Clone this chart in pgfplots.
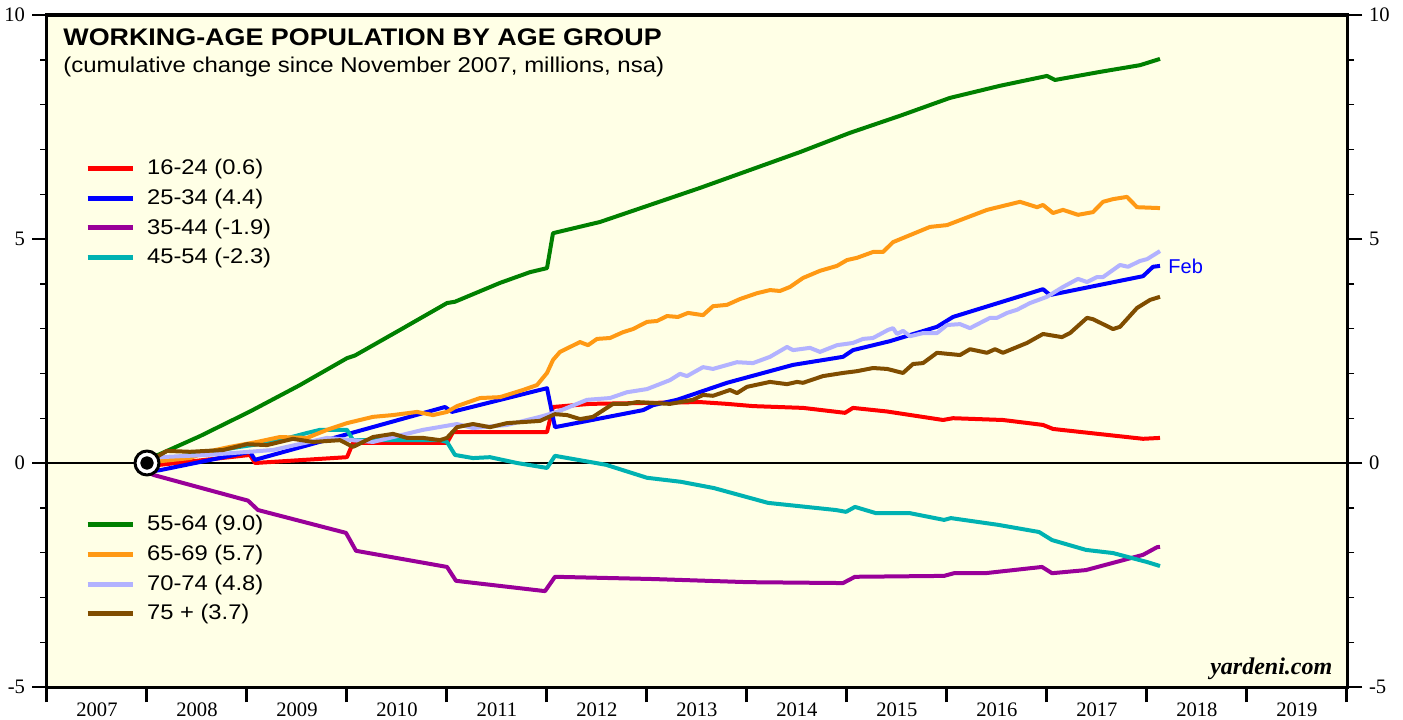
\documentclass[border=0pt]{standalone}
\usepackage{fontspec}
\setmainfont{Liberation Sans}[FakeStretch=1.12]
\newfontfamily\plainsans{Liberation Sans}
\newfontfamily\tickfont{Liberation Serif}
\usepackage{pgfplots}
\pgfplotsset{compat=1.18}

\definecolor{bgyellow}{RGB}{255,255,230}
\definecolor{cA}{RGB}{255,0,0}
\definecolor{cB}{RGB}{0,0,255}
\definecolor{cC}{RGB}{153,0,153}
\definecolor{cD}{RGB}{0,178,178}
\definecolor{cE}{RGB}{0,128,0}
\definecolor{cF}{RGB}{255,153,20}
\definecolor{cG}{RGB}{178,178,255}
\definecolor{cH}{RGB}{128,77,0}

\pgfplotsset{
  base/.style={
    scale only axis, width=650pt, height=336pt,
    xmin=2007, xmax=2020, ymin=-5, ymax=10,
    xtick={2007,...,2020},
    xticklabels={2007,2008,2009,2010,2011,2012,2013,2014,2015,2016,2017,2018,2019,{}},
    x tick label style={xshift=25pt, yshift=3pt},
    ytick={-5,0,5,10},
    minor ytick={-4,-3,-2,-1,1,2,3,4,6,7,8,9},
    tick align=outside, xtick pos=bottom,
    major tick length=7.5pt, minor tick length=3.5pt,
    axis line style={line width=1.5pt},
    x tick style={line width=1.5pt, black},
    y tick style={line width=0.7pt, black},
    tick label style={font=\tickfont\fontsize{10.3}{12}\selectfont},
    /pgf/number format/assume math mode=true,
    every axis plot/.append style={line width=2pt, line join=round},
    legend image code/.code={\draw[##1, line width=2.5pt] (0pt,0pt) -- (22.5pt,0pt);},
    legend cell align=left,
    legend style={draw=none, fill=none, anchor=north west,
      font=\fontsize{10.6}{12}\selectfont, row sep=1.7pt, inner sep=0pt,
      /tikz/every odd column/.append style={column sep=4pt}},
  }
}

\begin{document}
\begin{tikzpicture}
\useasboundingbox (-23.5pt,-16pt) rectangle (678pt,343.5pt);

\begin{axis}[base,
  axis background/.style={fill=bgyellow},
  yticklabel pos=left, ytick pos=both,
  legend style={at={(rel axis cs:0.029,0.792)}},
]
\addplot[black, line width=0.6pt, forget plot] coordinates {(2007,0) (2020,0)};

% 16-24
\addplot[cA] coordinates {
(2008.00,0) (2008.13,-0.04) (2009.03,0.18) (2009.08,0.00) (2010.00,0.13)
(2010.06,0.45) (2011.00,0.45) (2011.06,0.69) (2012.00,0.69) (2012.06,1.25)
(2012.43,1.32) (2013.53,1.36) (2013.80,1.32) (2014.06,1.27) (2014.56,1.23)
(2014.98,1.12) (2015.06,1.23) (2015.40,1.15) (2015.96,0.96) (2016.06,1.00)
(2016.56,0.96) (2016.96,0.85) (2017.06,0.76) (2017.96,0.54) (2018.13,0.56)
};
% 25-34
\addplot[cB] coordinates {
(2008.00,-0.20) (2008.13,-0.16) (2009.03,0.25) (2009.08,0.07) (2010.98,1.25)
(2011.05,1.14) (2012.00,1.67) (2012.08,0.80) (2012.96,1.18) (2013.06,1.29)
(2013.30,1.41) (2013.80,1.79) (2014.46,2.19) (2014.96,2.37) (2015.06,2.52)
(2015.43,2.72) (2015.90,3.04) (2016.06,3.26) (2016.96,3.88) (2017.03,3.75)
(2017.96,4.17) (2018.06,4.38) (2018.13,4.40)
};
% 35-44
\addplot[cC] coordinates {
(2008.00,-0.20) (2008.07,-0.27) (2009.01,-0.84) (2009.11,-1.05) (2009.99,-1.56)
(2010.09,-1.96) (2011.00,-2.32) (2011.09,-2.63) (2011.98,-2.86) (2012.08,-2.54)
(2013.06,-2.59) (2014.01,-2.66) (2014.96,-2.68) (2015.08,-2.54) (2015.97,-2.52)
(2016.07,-2.46) (2016.38,-2.46) (2016.95,-2.32) (2017.05,-2.46) (2017.39,-2.39)
(2017.96,-2.05) (2018.10,-1.88) (2018.13,-1.87)
};
% 45-54
\addplot[cD] coordinates {
(2008.00,0) (2008.13,0.07) (2008.43,0.18) (2008.93,0.36) (2009.26,0.47)
(2009.60,0.67) (2009.73,0.74) (2010.00,0.74) (2010.06,0.51) (2010.93,0.51)
(2011.00,0.47) (2011.08,0.18) (2011.26,0.11) (2011.43,0.13) (2011.70,0.00)
(2012.00,-0.11) (2012.08,0.16) (2012.59,-0.04) (2013.00,-0.33) (2013.34,-0.42)
(2013.67,-0.56) (2014.21,-0.89) (2014.89,-1.05) (2014.99,-1.09) (2015.08,-0.98)
(2015.29,-1.12) (2015.63,-1.12) (2015.97,-1.27) (2016.04,-1.23) (2016.51,-1.38)
(2016.92,-1.54) (2017.05,-1.72) (2017.39,-1.94) (2017.66,-2.01) (2018.00,-2.21)
(2018.13,-2.30)
};
\legend{16-24 (0.6), 25-34 (4.4), 35-44 (-1.9), 45-54 (-2.3)}

\node[anchor=base west, inner sep=0pt, font=\bfseries\fontsize{12}{14}\selectfont]
  at (rel axis cs:0.0123,0.955) {WORKING-AGE POPULATION BY AGE GROUP};
\node[anchor=base west, inner sep=0pt, font=\fontsize{10.7}{12}\selectfont]
  at (rel axis cs:0.0123,0.915) {(cumulative change since November 2007, millions, nsa)};
\node[anchor=base east, inner sep=0pt, font=\tickfont\bfseries\itshape\fontsize{12}{14}\selectfont]
  at (rel axis cs:0.989,0.018) {yardeni.com};
\node[anchor=west, inner sep=0pt, text=cB, font=\plainsans\fontsize{10}{12}\selectfont]
  at (axis cs:2018.21,4.40) {Feb};
\end{axis}

\begin{axis}[base,
  yticklabel pos=right, ytick pos=both,
  xticklabels={},
  legend style={at={(rel axis cs:0.029,0.262)}},
]
% 55-64
\addplot[cE] coordinates {
(2008.00,0) (2008.08,0.15) (2008.53,0.60) (2009.03,1.15) (2009.53,1.74)
(2010.00,2.34) (2010.08,2.40) (2010.53,2.97) (2011.00,3.57) (2011.08,3.60)
(2011.53,4.02) (2011.83,4.26) (2012.00,4.35) (2012.06,5.13) (2012.53,5.38)
(2013.03,5.76) (2013.53,6.14) (2014.03,6.54) (2014.53,6.94) (2015.03,7.37)
(2015.53,7.75) (2016.03,8.15) (2016.53,8.42) (2017.00,8.64) (2017.08,8.55)
(2017.53,8.73) (2017.93,8.88) (2018.13,9.02)
};
% 65-69
\addplot[cF] coordinates {
(2008.00,0) (2008.13,0.04) (2008.43,0.11) (2008.60,0.25) (2008.83,0.36)
(2009.10,0.47) (2009.33,0.58) (2009.60,0.56) (2009.80,0.74) (2010.00,0.89)
(2010.26,1.03) (2010.46,1.07) (2010.70,1.14) (2010.86,1.07) (2011.00,1.14)
(2011.10,1.27) (2011.33,1.45) (2011.53,1.47) (2011.76,1.63) (2011.90,1.74)
(2012.00,2.01) (2012.06,2.30) (2012.13,2.48) (2012.33,2.70) (2012.41,2.63)
(2012.50,2.77) (2012.63,2.79) (2012.76,2.92) (2012.86,2.99) (2013.00,3.15)
(2013.10,3.17) (2013.20,3.28) (2013.31,3.26) (2013.41,3.35) (2013.56,3.30)
(2013.66,3.50) (2013.80,3.53) (2013.93,3.66) (2014.10,3.79) (2014.23,3.86)
(2014.33,3.84) (2014.43,3.93) (2014.56,4.13) (2014.73,4.29) (2014.90,4.40)
(2015.00,4.53) (2015.10,4.58) (2015.26,4.71) (2015.36,4.71) (2015.46,4.93)
(2015.83,5.27) (2016.00,5.31) (2016.40,5.65) (2016.73,5.83) (2016.90,5.71)
(2016.96,5.76) (2017.06,5.58) (2017.16,5.65) (2017.31,5.54) (2017.46,5.60)
(2017.56,5.83) (2017.66,5.89) (2017.80,5.94) (2017.90,5.71) (2018.13,5.69)
};
% 70-74
\addplot[cG] coordinates {
(2008.00,0) (2008.13,0.13) (2008.60,0.18) (2009.26,0.29) (2009.80,0.56)
(2010.26,0.47) (2010.76,0.74) (2011.10,0.87) (2011.26,0.78) (2011.60,0.85)
(2011.93,1.03) (2012.10,1.14) (2012.40,1.41) (2012.63,1.45) (2012.80,1.58)
(2013.00,1.65) (2013.23,1.85) (2013.33,1.99) (2013.40,1.94) (2013.56,2.14)
(2013.66,2.10) (2013.90,2.25) (2014.06,2.23) (2014.23,2.37) (2014.40,2.59)
(2014.46,2.52) (2014.63,2.57) (2014.73,2.48) (2014.90,2.63) (2015.06,2.68)
(2015.16,2.77) (2015.26,2.79) (2015.41,2.97) (2015.46,3.01) (2015.50,2.88)
(2015.56,2.95) (2015.63,2.83) (2015.76,2.90) (2015.90,2.90) (2016.00,3.08)
(2016.13,3.10) (2016.23,3.01) (2016.43,3.24) (2016.50,3.24) (2016.60,3.35)
(2016.70,3.42) (2016.83,3.57) (2017.00,3.71) (2017.16,3.93) (2017.31,4.11)
(2017.40,4.04) (2017.50,4.15) (2017.56,4.15) (2017.73,4.42) (2017.81,4.38)
(2017.93,4.51) (2018.00,4.55) (2018.13,4.73)
};
% 75+
\addplot[cH] coordinates {
(2008.00,0) (2008.13,0.18) (2008.20,0.27) (2008.43,0.25) (2008.76,0.29)
(2009.00,0.42) (2009.20,0.40) (2009.46,0.54) (2009.66,0.47) (2009.93,0.51)
(2010.06,0.36) (2010.26,0.58) (2010.46,0.65) (2010.60,0.56) (2010.76,0.56)
(2010.93,0.51) (2011.00,0.56) (2011.10,0.80) (2011.26,0.87) (2011.43,0.80)
(2011.60,0.89) (2011.93,0.94) (2012.08,1.09) (2012.20,1.07) (2012.33,0.98)
(2012.46,1.03) (2012.66,1.32) (2012.80,1.32) (2012.90,1.36) (2013.06,1.34)
(2013.23,1.32) (2013.46,1.41) (2013.56,1.52) (2013.66,1.50) (2013.83,1.63)
(2013.90,1.56) (2014.00,1.70) (2014.23,1.81) (2014.40,1.76) (2014.50,1.81)
(2014.56,1.79) (2014.76,1.94) (2014.96,2.01) (2015.10,2.05) (2015.26,2.12)
(2015.40,2.10) (2015.56,2.01) (2015.66,2.21) (2015.76,2.23) (2015.90,2.46)
(2016.13,2.41) (2016.23,2.54) (2016.40,2.46) (2016.48,2.54) (2016.56,2.46)
(2016.80,2.68) (2016.96,2.88) (2017.15,2.81) (2017.23,2.90) (2017.40,3.24)
(2017.46,3.21) (2017.66,2.99) (2017.73,3.04) (2017.90,3.46) (2018.03,3.64)
(2018.13,3.71)
};
\legend{55-64 (9.0), 65-69 (5.7), 70-74 (4.8), 75 + (3.7)}

% start marker
\addplot[only marks, mark=*, mark size=6pt,
  mark options={fill=white, draw=black, line width=1.5pt}, forget plot]
  coordinates {(2008,0)};
\addplot[only marks, mark=*, mark size=2.4pt, black, forget plot]
  coordinates {(2008,0)};
\end{axis}
\end{tikzpicture}
\end{document}
